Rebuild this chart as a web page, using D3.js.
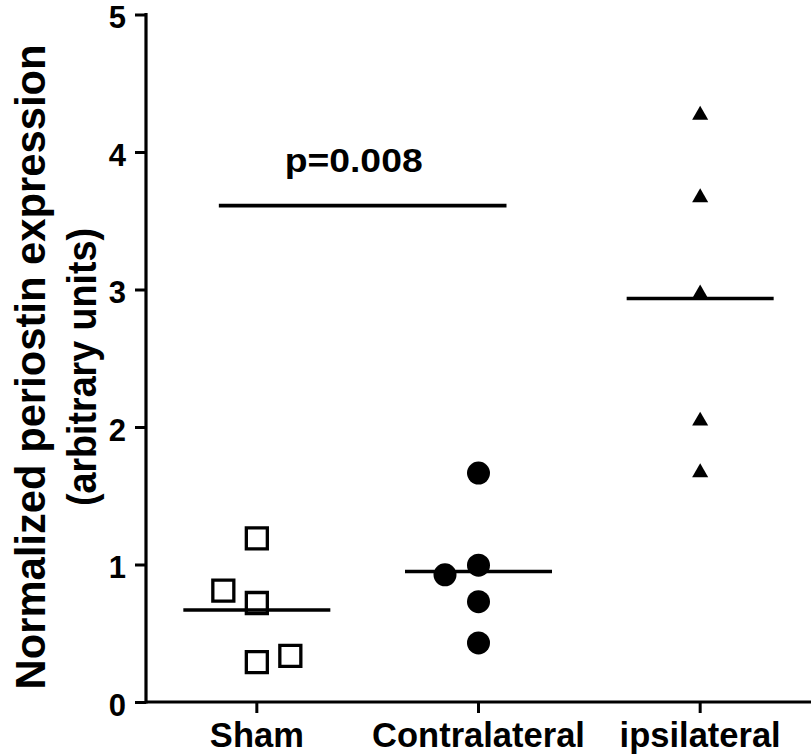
<!DOCTYPE html>
<html>
<head>
<meta charset="utf-8">
<script src="https://cdn.jsdelivr.net/npm/d3@7"></script>
<style>
  html, body { margin: 0; padding: 0; background: #fff; }
  svg { display: block; }
  text { font-family: "Liberation Sans", Arial, Helvetica, sans-serif; font-weight: bold; fill: #000; }
</style>
</head>
<body>
<svg id="chart" width="811" height="755"></svg>
<script>
// ---- Data ----
const categories = ["Sham", "Contralateral", "ipsilateral"];
const shamValues = [1.19, 0.81, 0.72, 0.29, 0.335];
const shamColumn = [0, -1, 0, 0, 1];
const contraValues = [1.665, 0.995, 0.925, 0.73, 0.43];
const contraColumn = [0, 0, -1, 0, 0];
const ipsiValues = [4.28, 3.68, 2.98, 2.055, 1.68];
const ipsiColumn = [0, 0, 0, 0, 0];
const yTicks = [0, 1, 2, 3, 4, 5];
const yTitle = ["Normalized periostin expression", "(arbitrary units)"];
const sigFrom = "Sham", sigTo = "Contralateral", sigValue = 3.61, sigLabel = "p=0.008";

const groups = [
  { name: "Sham", values: shamValues, cols: shamColumn, shape: "square" },
  { name: "Contralateral", values: contraValues, cols: contraColumn, shape: "circle" },
  { name: "ipsilateral", values: ipsiValues, cols: ipsiColumn, shape: "triangle" }
];

// ---- Layout ----
const svg = d3.select("#chart");
const mLeft = 146, mRight = 811, mTop = 14.5, mBottom = 702;

const x = d3.scaleBand().domain(categories).range([mLeft, mRight]).paddingInner(0).paddingOuter(0);
const xc = c => x(c) + x.bandwidth() / 2;
const y = d3.scaleLinear().domain([0, 5]).range([mBottom, mTop]);
const jitter = 33.5;

// Axes
const yAxis = d3.axisLeft(y).tickValues(yTicks).tickSize(11).tickPadding(9).tickFormat(d3.format("d"));
const gy = svg.append("g").attr("transform", `translate(${mLeft},0)`).call(yAxis);
gy.select(".domain").remove();
gy.selectAll(".tick line").attr("stroke", "#000").attr("stroke-width", 3);
gy.selectAll(".tick text").style("font-size", "31px").attr("dy", "0.43em");
svg.append("line").attr("x1", mLeft).attr("x2", mLeft).attr("y1", y(5) - 1.5).attr("y2", mBottom + 1.5)
  .attr("stroke", "#000").attr("stroke-width", 3.2);

const xAxis = d3.axisBottom(x).tickSize(11).tickPadding(10);
const gx = svg.append("g").attr("transform", `translate(0,${mBottom})`).call(xAxis);
gx.select(".domain").remove();
gx.selectAll(".tick line").attr("stroke", "#000").attr("stroke-width", 3);
gx.selectAll(".tick text").style("font-size", "34.5px").attr("dy", "0.7em");
svg.append("line").attr("x1", mLeft).attr("x2", mRight).attr("y1", mBottom).attr("y2", mBottom)
  .attr("stroke", "#000").attr("stroke-width", 3.2);

// Y title
svg.append("text").attr("transform", `translate(30,367) rotate(-90)`).attr("text-anchor", "middle")
  .attr("dy", "0.36em").style("font-size", "43px")
  .attr("textLength", 645).attr("lengthAdjust", "spacingAndGlyphs").text(yTitle[0]);
svg.append("text").attr("transform", `translate(81,367) rotate(-90)`).attr("text-anchor", "middle")
  .attr("dy", "0.36em").style("font-size", "41px")
  .attr("textLength", 278).attr("lengthAdjust", "spacingAndGlyphs").text(yTitle[1]);

// Mean lines
const halfW = 73.5;
groups.forEach(g => {
  const m = d3.mean(g.values);
  svg.append("line").attr("x1", xc(g.name) - halfW).attr("x2", xc(g.name) + halfW)
    .attr("y1", y(m)).attr("y2", y(m)).attr("stroke", "#000").attr("stroke-width", 3.6);
});

// Points
const sym = {
  square: d3.symbol().type(d3.symbolSquare).size(21 * 21),
  circle: d3.symbol().type(d3.symbolCircle).size(Math.PI * 11.5 * 11.5),
  triangle: d3.symbol().type(d3.symbolTriangle).size(15 * 15 * Math.sqrt(3) / 4 * 1.15)
};
groups.forEach(g => {
  svg.append("g").selectAll("path").data(g.values).join("path")
    .attr("d", sym[g.shape])
    .attr("transform", (d, i) => `translate(${xc(g.name) + g.cols[i] * jitter},${y(d) + (g.shape === "triangle" ? 1.5 : 0)})`)
    .attr("fill", g.shape === "square" ? "none" : "#000")
    .attr("stroke", "#000")
    .attr("stroke-width", g.shape === "square" ? 3.3 : 0);
});

// Significance line
const sx1 = xc(sigFrom) - 38, sx2 = xc(sigTo) + 28;
svg.append("line").attr("x1", sx1).attr("x2", sx2).attr("y1", y(sigValue)).attr("y2", y(sigValue))
  .attr("stroke", "#000").attr("stroke-width", 3.6);
svg.append("text").attr("x", (sx1 + sx2) / 2 - 9).attr("y", y(sigValue) - 34)
  .attr("text-anchor", "middle").style("font-size", "34px")
  .attr("textLength", 138).attr("lengthAdjust", "spacingAndGlyphs").text(sigLabel);
</script>
</body>
</html>
